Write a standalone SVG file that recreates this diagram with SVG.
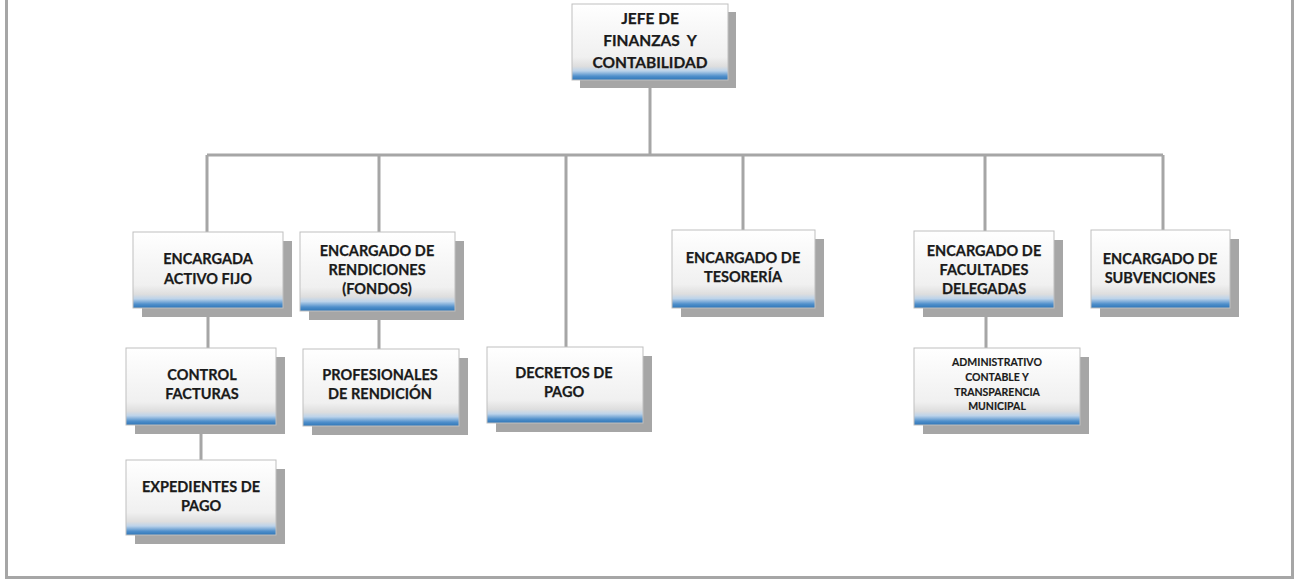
<svg xmlns="http://www.w3.org/2000/svg" width="1295" height="579" viewBox="0 0 1295 579">
<defs>
<linearGradient id="boxfill" x1="0" y1="0" x2="0" y2="1">
<stop offset="0" stop-color="#ffffff"/>
<stop offset="0.7" stop-color="#f0f0f0"/>
<stop offset="0.82" stop-color="#dedede"/>
<stop offset="0.88" stop-color="#bcd3ea"/>
<stop offset="0.95" stop-color="#4f8fcb"/>
<stop offset="1" stop-color="#2e75b6"/>
</linearGradient>
</defs>
<style>
.frame{fill:none;stroke:#a6a6a6;stroke-width:3}
.conn{fill:none;stroke:#a6a6a6;stroke-width:3}
.shadow{fill:#a6a6a6}
.box{fill:url(#boxfill);stroke:#bfbfbf;stroke-width:1}
.t{font-family:Lato,"Liberation Sans",sans-serif;font-weight:bold;font-size:14.5px;fill:#1a1a1a;text-anchor:middle;stroke:#1a1a1a;stroke-width:0.25}
.j{font-size:15.5px}
.s{font-size:10.5px;stroke-width:0.15}
</style>
<rect width="1295" height="579" fill="#ffffff"/>
<rect class="frame" x="6.5" y="-10" width="1286" height="587.5"/>
<g id="connectors">
<path class="conn" d="M650 88V155M207 155H1163M207 155V232M379 155V232M566 155V347M743 155V230M985 155V231M1163 155V230"/>
<path class="conn" d="M208 308V348M379 311V349M201 425V460M986 308V348"/>
</g>
<g id="jefe">
<rect class="shadow" x="580" y="12" width="156" height="76"/>
<rect class="box" x="572" y="4" width="156" height="76"/>
<text class="t j" x="650" y="24">JEFE DE</text>
<text class="t j" x="650" y="46" xml:space="preserve">FINANZAS  Y</text>
<text class="t j" x="650" y="68">CONTABILIDAD</text>
</g>
<g id="activo">
<rect class="shadow" x="142" y="241" width="150" height="76"/>
<rect class="box" x="133" y="232" width="150" height="76"/>
<text class="t" x="208" y="264">ENCARGADA</text>
<text class="t" x="208" y="284">ACTIVO FIJO</text>
</g>
<g id="rendiciones">
<rect class="shadow" x="309" y="241" width="155" height="79"/>
<rect class="box" x="300" y="232" width="155" height="79"/>
<text class="t" x="377" y="256">ENCARGADO DE</text>
<text class="t" x="377" y="275">RENDICIONES</text>
<text class="t" x="377" y="294">(FONDOS)</text>
</g>
<g id="tesoreria">
<rect class="shadow" x="681" y="239" width="143" height="78"/>
<rect class="box" x="672" y="230" width="143" height="78"/>
<text class="t" x="743" y="263">ENCARGADO DE</text>
<text class="t" x="743" y="282">TESORERÍA</text>
</g>
<g id="facultades">
<rect class="shadow" x="923" y="240" width="140" height="77"/>
<rect class="box" x="914" y="231" width="140" height="77"/>
<text class="t" x="984" y="256">ENCARGADO DE</text>
<text class="t" x="984" y="275">FACULTADES</text>
<text class="t" x="984" y="294">DELEGADAS</text>
</g>
<g id="subvenciones">
<rect class="shadow" x="1100" y="239" width="139" height="78"/>
<rect class="box" x="1091" y="230" width="139" height="78"/>
<text class="t" x="1160" y="264">ENCARGADO DE</text>
<text class="t" x="1160" y="283">SUBVENCIONES</text>
</g>
<g id="control">
<rect class="shadow" x="135" y="357" width="150" height="77"/>
<rect class="box" x="126" y="348" width="150" height="77"/>
<text class="t" x="202" y="380">CONTROL</text>
<text class="t" x="202" y="399">FACTURAS</text>
</g>
<g id="profesionales">
<rect class="shadow" x="312" y="358" width="156" height="77"/>
<rect class="box" x="303" y="349" width="156" height="77"/>
<text class="t" x="380" y="380">PROFESIONALES</text>
<text class="t" x="380" y="399">DE RENDICIÓN</text>
</g>
<g id="decretos">
<rect class="shadow" x="496" y="356" width="156" height="76"/>
<rect class="box" x="487" y="347" width="156" height="76"/>
<text class="t" x="564" y="378">DECRETOS DE</text>
<text class="t" x="564" y="397">PAGO</text>
</g>
<g id="administrativo">
<rect class="shadow" x="923" y="357" width="166" height="77"/>
<rect class="box" x="914" y="348" width="166" height="77"/>
<text class="t s" x="997" y="366">ADMINISTRATIVO</text>
<text class="t s" x="997" y="381">CONTABLE Y</text>
<text class="t s" x="997" y="396">TRANSPARENCIA</text>
<text class="t s" x="997" y="410">MUNICIPAL</text>
</g>
<g id="expedientes">
<rect class="shadow" x="135" y="469" width="150" height="75"/>
<rect class="box" x="126" y="460" width="150" height="75"/>
<text class="t" x="201" y="492">EXPEDIENTES DE</text>
<text class="t" x="201" y="511">PAGO</text>
</g>
</svg>
